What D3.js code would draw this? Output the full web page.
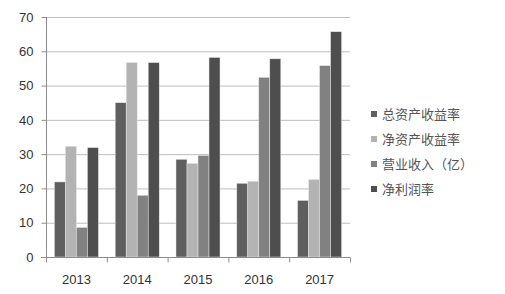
<!DOCTYPE html>
<html>
<head>
<meta charset="utf-8">
<script src="https://cdn.jsdelivr.net/npm/d3@7"></script>
<style>
  body { margin: 0; background: #fff; }
  svg { display: block; font-family: "Liberation Sans", "Noto Sans CJK SC", sans-serif; }
</style>
</head>
<body>
<div id="chart"></div>
<script>
var years = ["2013", "2014", "2015", "2016", "2017"];
var seriesNames = ["总资产收益率", "净资产收益率", "营业收入（亿）", "净利润率"];
var totalAssetReturn = [21.9, 45.0, 28.5, 21.5, 16.5];
var netAssetReturn = [32.3, 56.7, 27.3, 22.1, 22.6];
var revenue = [8.6, 18.0, 29.6, 52.4, 55.8];
var netProfitMargin = [31.9, 56.7, 58.2, 57.8, 65.7];
var yTicks = [0, 10, 20, 30, 40, 50, 60, 70];

var colors = ["#5f5f5f", "#b3b3b3", "#818181", "#4e4e4e"];
var seriesValues = [totalAssetReturn, netAssetReturn, revenue, netProfitMargin];

var width = 505, height = 294;
var margin = { top: 17, right: 155, bottom: 37, left: 46 };
var w = width - margin.left - margin.right,
    h = height - margin.top - margin.bottom;

var svg = d3.select("#chart").append("svg")
    .attr("width", width)
    .attr("height", height);

var g = svg.append("g")
    .attr("transform", "translate(" + margin.left + "," + margin.top + ")");

var x0 = d3.scaleBand()
    .domain(years)
    .range([0, w])
    .paddingInner(0.276)
    .paddingOuter(0.138);

var x1 = d3.scaleBand()
    .domain(d3.range(seriesNames.length))
    .range([0, x0.bandwidth()]);

var y = d3.scaleLinear()
    .domain([0, 70])
    .range([h, 0]);

// gridlines
g.selectAll(".grid")
    .data(yTicks.slice(1))
    .enter().append("line")
    .attr("class", "grid")
    .attr("x1", 0)
    .attr("x2", w)
    .attr("y1", function (d) { return y(d) + 0.5; })
    .attr("y2", function (d) { return y(d) + 0.5; })
    .style("stroke", "#bdbdbd")
    .style("stroke-width", 1);

// bars
var groups = g.selectAll(".year")
    .data(years)
    .enter().append("g")
    .attr("class", "year")
    .attr("transform", function (d) { return "translate(" + x0(d) + ",0)"; });

groups.selectAll("rect")
    .data(function (d, i) { return seriesValues.map(function (s, j) { return { s: j, v: s[i] }; }); })
    .enter().append("rect")
    .attr("x", function (d) { return x1(d.s); })
    .attr("width", x1.bandwidth())
    .attr("y", function (d) { return y(d.v); })
    .attr("height", function (d) { return h - y(d.v); })
    .style("fill", function (d) { return colors[d.s]; })
    .style("stroke", "#e6e6e6")
    .style("stroke-width", 0.5);

// y axis
var yAxis = g.append("g")
    .attr("transform", "translate(0.5,0)")
    .call(d3.axisLeft(y).tickValues(yTicks).tickSize(5).tickPadding(8));
yAxis.select(".domain").style("stroke", "#8c8c8c").attr("d", "M0," + h + "V0");
yAxis.selectAll(".tick line").style("stroke", "#8c8c8c");
yAxis.selectAll("text").style("font-size", "13px").style("fill", "#333");

// x axis
var xAxis = g.append("g")
    .attr("transform", "translate(0," + (h + 0.5) + ")");
xAxis.append("line")
    .attr("x1", -5).attr("x2", w)
    .style("stroke", "#8c8c8c");
xAxis.selectAll(".xtick")
    .data(d3.range(years.length + 1))
    .enter().append("line")
    .attr("x1", function (d) { return d * w / years.length + 0.5; })
    .attr("x2", function (d) { return d * w / years.length + 0.5; })
    .attr("y1", 0).attr("y2", 5)
    .style("stroke", "#8c8c8c");
xAxis.selectAll(".xlabel")
    .data(years)
    .enter().append("text")
    .attr("x", function (d) { return x0(d) + x0.bandwidth() / 2; })
    .attr("y", 22)
    .attr("dy", "0.35em")
    .attr("text-anchor", "middle")
    .style("font-size", "13px")
    .style("fill", "#333")
    .text(function (d) { return d; });

// legend
var legend = svg.append("g")
    .attr("transform", "translate(371,114)");
var items = legend.selectAll(".item")
    .data(seriesNames)
    .enter().append("g")
    .attr("transform", function (d, i) { return "translate(0," + (i * 25) + ")"; });
items.append("rect")
    .attr("x", 0).attr("y", -3)
    .attr("width", 6).attr("height", 6)
    .style("fill", function (d, i) { return colors[i]; });
items.append("text")
    .attr("x", 11)
    .attr("dy", "0.35em")
    .style("font-size", "13px")
    .style("font-family", "'Noto Sans CJK SC', sans-serif")
    .style("fill", "#555")
    .text(function (d) { return d; });
</script>
</body>
</html>
